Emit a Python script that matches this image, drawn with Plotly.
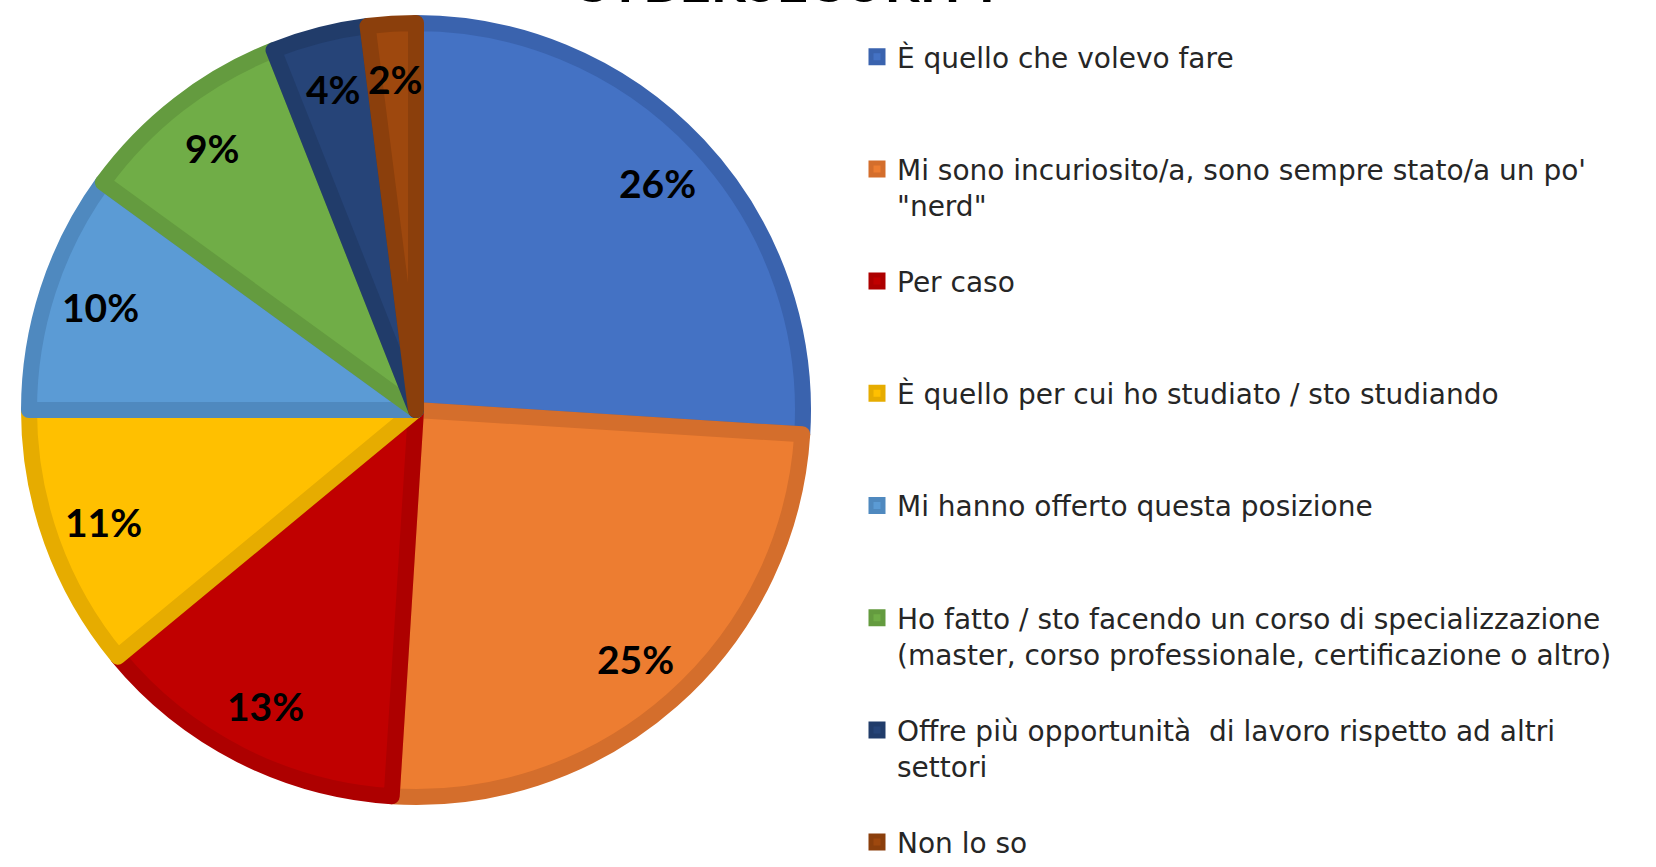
import math
import plotly.graph_objects as go

# Survey answers: why did you choose cybersecurity?
categories = [
    "È quello che volevo fare",
    "Mi sono incuriosito/a, sono sempre stato/a un po'<br>\"nerd\"",
    "Per caso",
    "È quello per cui ho studiato / sto studiando",
    "Mi hanno offerto questa posizione",
    "Ho fatto / sto facendo un corso di specializzazione<br>(master, corso professionale, certificazione o altro)",
    "Offre più opportunità  di lavoro rispetto ad altri<br>settori",
    "Non lo so",
]
percentages = [26, 25, 13, 11, 10, 9, 4, 2]

fill_colors = ["#4472C4", "#ED7D31", "#C00000", "#FFC000",
               "#5B9BD5", "#70AD47", "#264478", "#9E480E"]
edge_colors = ["#3A63AE", "#D46E2C", "#AD0000", "#E6AC00",
               "#4F89BF", "#649B3F", "#213C6A", "#8B3F0C"]

W, H = 1656, 867
CX, CY = 416, 410          # pie centre in page pixels (from top-left)
R_OUT = 395                 # outer edge including border
EDGE_W = 16
R_PIE = R_OUT - EDGE_W / 2

# legend entries (except the last) occupy three text lines so they are evenly spaced
def pad_lines(label, n=3):
    count = label.count("<br>") + 1
    return label + "<br> " * (n - count)

legend_labels = [pad_lines(c) for c in categories[:-1]] + [categories[-1]]

fig = go.Figure()
fig.add_trace(go.Pie(
    labels=legend_labels,
    values=percentages,
    sort=False,
    direction="clockwise",
    rotation=0,
    textinfo="none",
    hoverinfo="label+percent",
    marker=dict(colors=fill_colors, line=dict(color=edge_colors, width=EDGE_W)),
    domain=dict(x=[(CX - R_PIE) / W, (CX + R_PIE) / W],
                y=[(H - CY - R_PIE) / H, (H - CY + R_PIE) / H]),
))

# percentage labels placed near the outer part of each slice
annotations = []
total = sum(percentages)
cum = 0
for v in percentages:
    mid = (cum + v / 2) / total * 2 * math.pi
    cum += v
    r = 0.84 * R_OUT
    px = CX + r * math.sin(mid)
    py = CY - r * math.cos(mid)
    annotations.append(dict(
        x=px / W, y=(H - py) / H, xref="paper", yref="paper",
        text=f"<b>{v}%</b>", showarrow=False,
        font=dict(family="Lato", size=39, color="#000000"),
        xanchor="center", yanchor="middle",
    ))

# chart title (its upper part runs past the top of the page)
annotations.append(dict(
    x=788 / W, y=(H + 19) / H, xref="paper", yref="paper",
    text="<b>CYBERSECURITY</b>", showarrow=False,
    font=dict(family="Lato", size=55, color="#000000"),
    xanchor="center", yanchor="middle",
))

fig.update_layout(
    width=W, height=H,
    margin=dict(l=0, r=0, t=0, b=0),
    paper_bgcolor="white",
    plot_bgcolor="white",
    showlegend=True,
    legend=dict(
        x=857 / W, y=1 - 57 / H, xanchor="left", yanchor="top",
        valign="top",
        maxheight=1000,
        font=dict(family="DejaVu Sans", size=28, color="#262626"),
        bgcolor="rgba(0,0,0,0)",
        traceorder="normal",
    ),
    annotations=annotations,
)

fig.write_html("out.html")
